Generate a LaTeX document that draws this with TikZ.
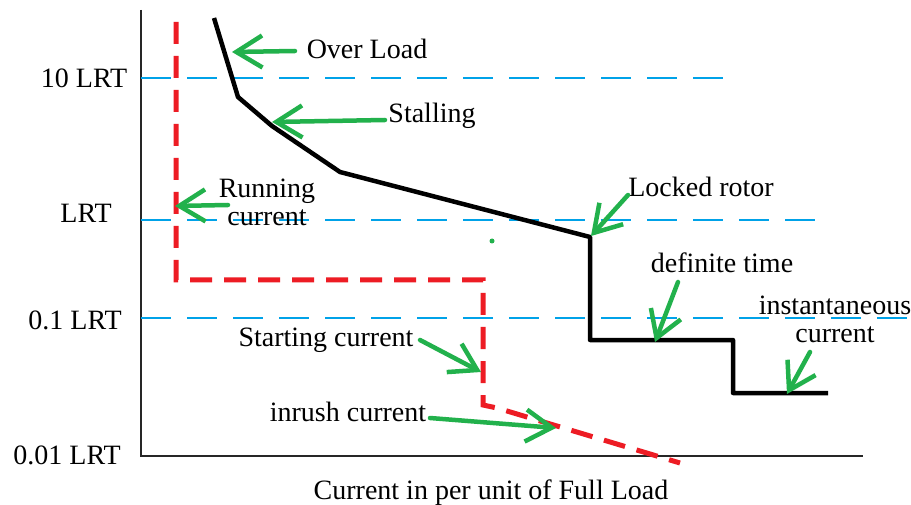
\documentclass[tikz,border=0pt]{standalone}
\usepackage{fontspec}
\setmainfont{Liberation Serif}
\usetikzlibrary{arrows.meta}
\definecolor{pgreen}{RGB}{34,177,76}
\definecolor{pred}{RGB}{237,28,36}
\definecolor{pblue}{RGB}{0,162,232}
\tikzset{
  lbl/.style={font=\fontsize{28}{28}\selectfont, inner sep=2pt, align=center},
  garrow/.style={draw=pgreen, line width=4.5pt, line cap=round, -{Straight Barb[length=26pt,width=32pt,line width=4.5pt]}},
  axisline/.style={draw=black!85, line width=1.6pt},
  gridline/.style={draw=pblue, line width=1.3pt, dash pattern=on 30pt off 16pt},
  redline/.style={draw=pred, line width=5pt, dash pattern=on 22pt off 12pt},
  blackline/.style={draw=black, line width=4.5pt, line join=round}
}
\begin{document}
\begin{tikzpicture}[x=1pt,y=-1pt]
\useasboundingbox[fill=white] (0,0) rectangle (911,505);
% axes
\coordinate (ytop) at (141,10);
\coordinate (origin) at (141,456);
\coordinate (xend) at (863,456);
\draw[axisline] (ytop) -- (origin) -- (xend);
% grid lines
\coordinate (g1a) at (141,78);  \coordinate (g1b) at (730,78);
\coordinate (g2a) at (141,220); \coordinate (g2b) at (815,220);
\coordinate (g3a) at (141,318); \coordinate (g3b) at (911,318);
\draw[gridline] (g1a) -- (g1b);
\draw[gridline] (g2a) -- (g2b);
\draw[gridline] (g3a) -- (g3b);
% axis labels
\node[lbl] (l10) at (84,78) {10 LRT};
\node[lbl] (l1) at (86,213) {LRT};
\node[lbl] (l01) at (75,320) {0.1 LRT};
\node[lbl] (l001) at (67,455) {0.01 LRT};
\node[lbl] (xlab) at (491,493) {Current in per unit of Full Load};
% red (motor current) curve
\coordinate (r1) at (176,22);
\coordinate (r2) at (176,280);
\coordinate (r3) at (483,280);
\coordinate (r4) at (483,405);
\coordinate (r5) at (497,408);
\coordinate (r6) at (680,463);
\draw[redline] (r1) -- (r2) -- (r3) -- (r4) -- (r5) -- (r6);
% black (relay) curve
\coordinate (b1) at (214,18);
\coordinate (b2) at (238,97);
\coordinate (b3) at (272,126);
\coordinate (b4) at (340,172);
\coordinate (b5) at (590,237);
\coordinate (b6) at (590,340);
\coordinate (b7) at (733,340);
\coordinate (b8) at (733,393);
\coordinate (b9) at (828,393);
\draw[blackline] (b1) -- (b2) -- (b3) -- (b4) -- (b5) -- (b6) -- (b7) -- (b8) -- (b9);
% annotation labels
\node[lbl] (tover) at (367,49) {Over Load};
\node[lbl] (tstall) at (432,116) {Stalling};
\node[lbl] (trun) at (267,202) {Running\\current};
\node[lbl] (tlock) at (701,187) {Locked rotor};
\node[lbl] (tdef) at (722,263) {definite time};
\node[lbl] (tinst) at (835,319) {instantaneous\\current};
\node[lbl] (tstart) at (326,340) {Starting current};
\node[lbl] (tinr) at (348,412) {inrush current};
% arrow targets
\coordinate (aover) at (232,52);
\coordinate (astall) at (272,122);
\coordinate (arun) at (175,206);
\coordinate (alock) at (591,236);
\coordinate (adef) at (655,342);
\coordinate (ainst) at (787,394);
\coordinate (astart) at (481,372);
\coordinate (ainr) at (556,428);
\coordinate (s1) at (295,51);
\coordinate (s2) at (385,120);
\coordinate (s3) at (228,205);
\coordinate (s4) at (628,195);
\coordinate (s5) at (678,282);
\coordinate (s6) at (810,352);
\coordinate (s7) at (420,340);
\coordinate (s8) at (430,418);
\draw[garrow] (s1) -- (aover);
\draw[garrow] (s2) -- (astall);
\draw[garrow] (s3) -- (arun);
\draw[garrow] (s4) -- (alock);
\draw[garrow] (s5) -- (adef);
\draw[garrow] (s6) -- (ainst);
\draw[garrow] (s7) -- (astart);
\draw[garrow] (s8) -- (ainr);
% stray dot
\node[circle, fill=pgreen, inner sep=0pt, minimum size=5pt] (dot) at (492,241) {};
\end{tikzpicture}
\end{document}
